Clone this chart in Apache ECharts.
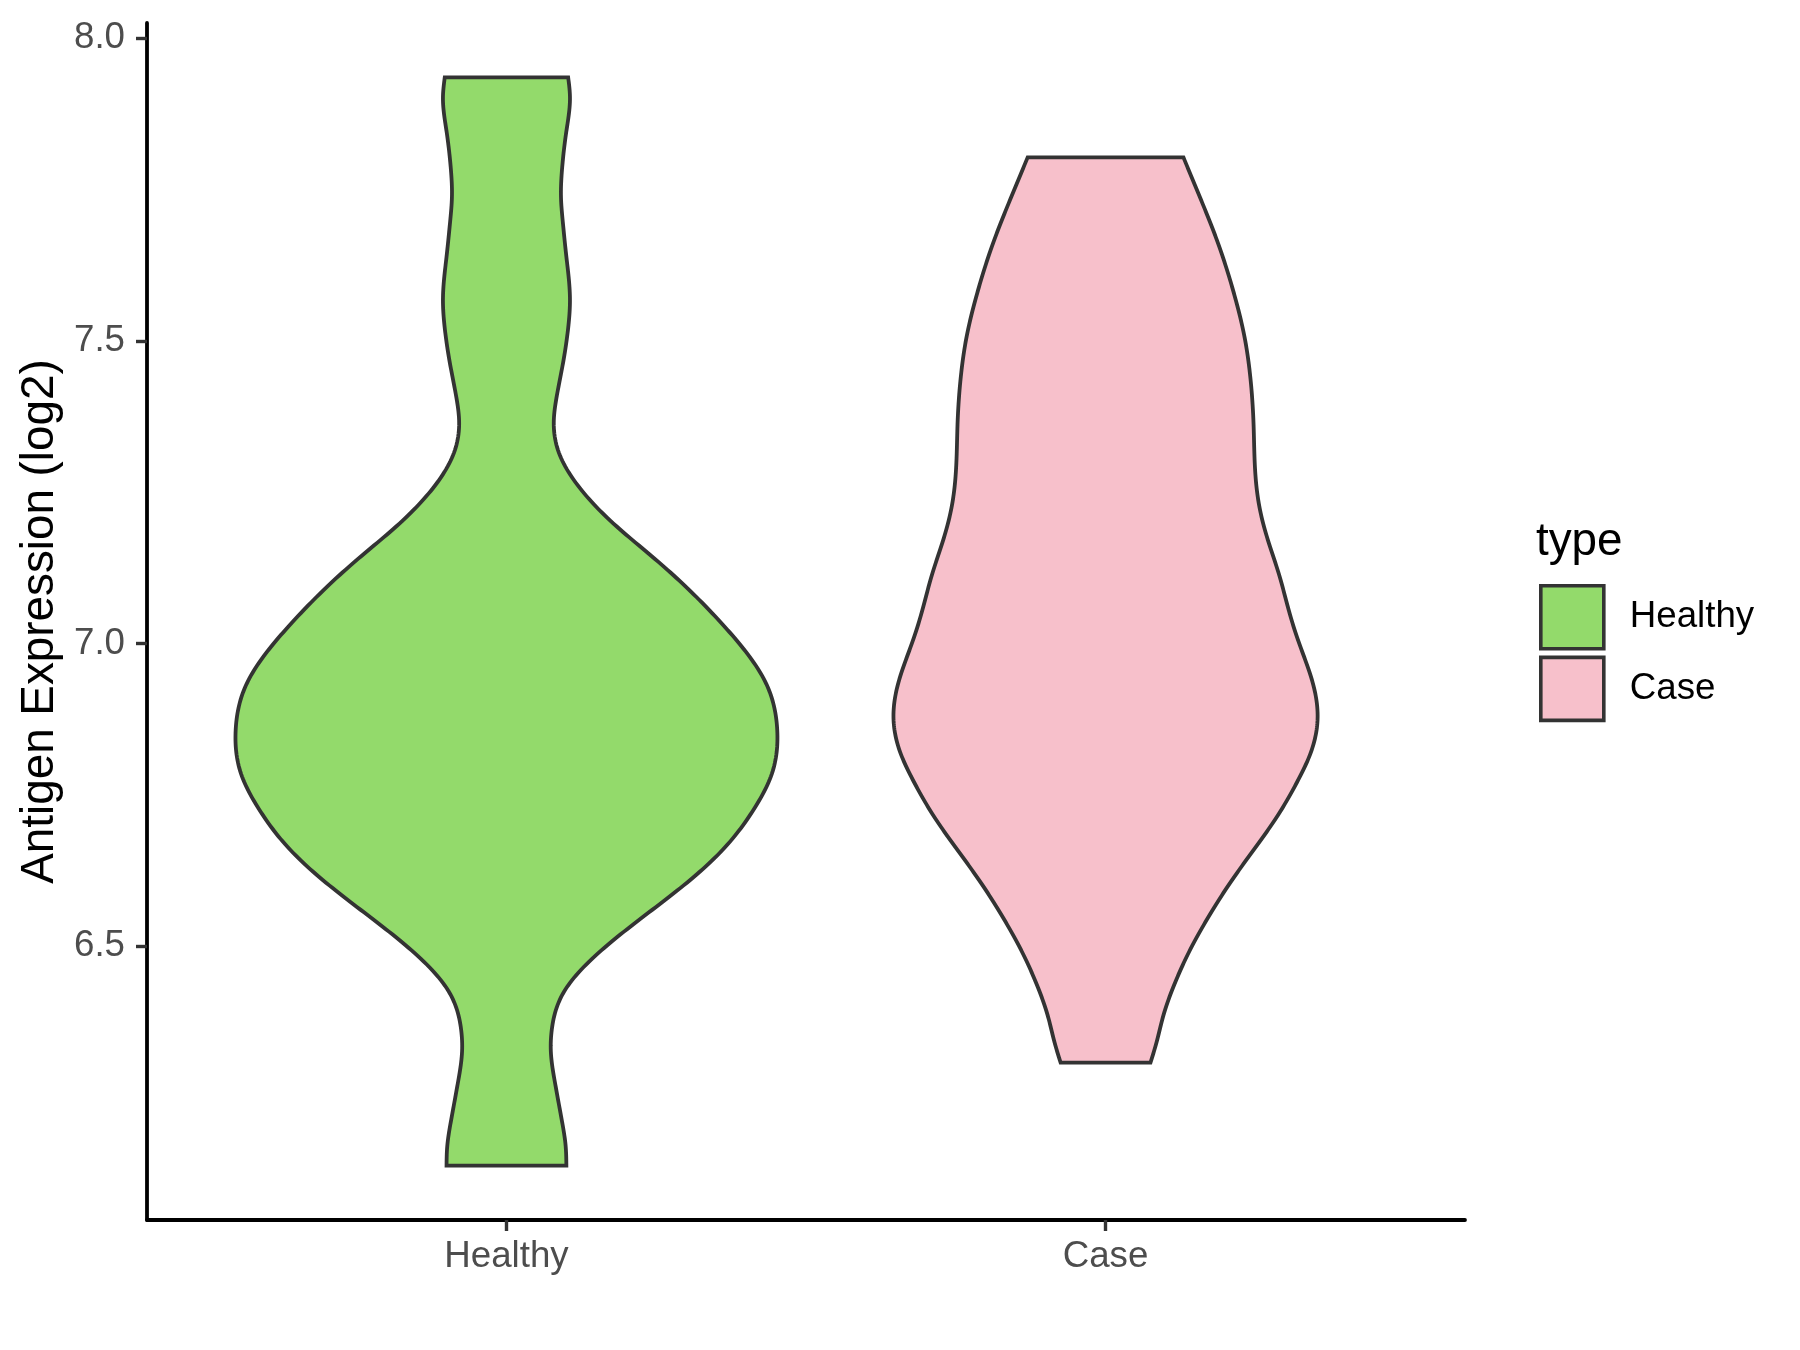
<!DOCTYPE html>
<html>
<head>
<meta charset="utf-8">
<script src="https://cdn.jsdelivr.net/npm/echarts@6/dist/echarts.min.js"></script>
<style>
  html, body { margin: 0; padding: 0; background: #ffffff; }
  #chart { width: 1800px; height: 1350px; }
</style>
</head>
<body>
<div id="chart"></div>
<script>
// ---- data ----
const categories = ['Healthy', 'Case'];
const yTicks = [6.5, 7.0, 7.5, 8.0];

// Healthy violin outline: expression value and half-width (in category units)
const healthyY = [7.935, 7.903, 7.846, 7.786, 7.738, 7.697, 7.639, 7.568, 7.521, 7.461, 7.403, 7.367, 7.314, 7.255, 7.197, 7.138, 7.078, 7.039, 6.996, 6.935, 6.857, 6.785, 6.725, 6.666, 6.605, 6.545, 6.486, 6.425, 6.365, 6.329, 6.275, 6.215, 6.168, 6.138];
const healthyHalfWidth = [0.103, 0.106, 0.100, 0.093, 0.091, 0.094, 0.100, 0.106, 0.103, 0.094, 0.083, 0.079, 0.088, 0.124, 0.180, 0.250, 0.316, 0.354, 0.392, 0.433, 0.452, 0.443, 0.412, 0.367, 0.301, 0.223, 0.150, 0.096, 0.076, 0.074, 0.081, 0.092, 0.099, 0.100];

// Case violin outline
const caseY = [7.803, 7.748, 7.666, 7.583, 7.501, 7.446, 7.364, 7.281, 7.225, 7.171, 7.116, 7.044, 7.001, 6.945, 6.879, 6.824, 6.770, 6.714, 6.659, 6.605, 6.549, 6.494, 6.440, 6.384, 6.341, 6.308];
const caseHalfWidth = [0.130, 0.153, 0.186, 0.213, 0.233, 0.241, 0.247, 0.250, 0.257, 0.271, 0.289, 0.309, 0.323, 0.343, 0.354, 0.344, 0.319, 0.286, 0.247, 0.208, 0.172, 0.141, 0.116, 0.096, 0.085, 0.075];

// ---- styling ----
const FONT = '"Liberation Sans", Arial, Helvetica, sans-serif';
const COLORS = { Healthy: '#93DA6B', Case: '#F7C0CB' };
const OUTLINE = '#333333';

// y range with ggplot-style 5% expansion of the full data range
const allY = healthyY.concat(caseY);
const dMin = Math.min.apply(null, allY), dMax = Math.max.apply(null, allY);
const pad = (dMax - dMin) * 0.05;
const yMin = dMin - pad, yMax = dMax + pad;

// natural cubic spline of half-width as a function of value (used only to draw a smooth outline)
function splineSampler(xs, ys) {
  const n = xs.length;
  const h = [], al = [], l = [1], mu = [0], z = [0], c = new Array(n).fill(0), b = [], d = [];
  for (let i = 0; i < n - 1; i++) h.push(xs[i + 1] - xs[i]);
  for (let i = 1; i < n - 1; i++) al[i] = 3 / h[i] * (ys[i + 1] - ys[i]) - 3 / h[i - 1] * (ys[i] - ys[i - 1]);
  for (let i = 1; i < n - 1; i++) {
    l[i] = 2 * (xs[i + 1] - xs[i - 1]) - h[i - 1] * mu[i - 1];
    mu[i] = h[i] / l[i];
    z[i] = (al[i] - h[i - 1] * z[i - 1]) / l[i];
  }
  for (let j = n - 2; j >= 0; j--) {
    c[j] = z[j] - mu[j] * c[j + 1];
    b[j] = (ys[j + 1] - ys[j]) / h[j] - h[j] * (c[j + 1] + 2 * c[j]) / 3;
    d[j] = (c[j + 1] - c[j]) / (3 * h[j]);
  }
  return function (x) {
    let i = 0;
    while (i < n - 2 && x > xs[i + 1]) i++;
    const dx = x - xs[i];
    return ys[i] + b[i] * dx + c[i] * dx * dx + d[i] * dx * dx * dx;
  };
}

function makeRender(pos, ys, hws, color) {
  const asc = ys.map((v, i) => [v, hws[i]]).sort((a, b) => a[0] - b[0]);
  const f = splineSampler(asc.map(p => p[0]), asc.map(p => p[1]));
  const lo = asc[0][0], hi = asc[asc.length - 1][0];
  return function (params, api) {
    const steps = 400;
    const right = [], left = [];
    for (let k = 0; k <= steps; k++) {
      const v = hi - (hi - lo) * k / steps;
      const w = f(v);
      right.push(api.coord([pos + w, v]));
      left.push(api.coord([pos - w, v]));
    }
    const pts = right.concat(left.reverse());
    return {
      type: 'polygon',
      shape: { points: pts },
      style: { fill: color, stroke: OUTLINE, lineWidth: 3.8, lineJoin: 'miter' }
    };
  };
}

const violins = [
  { name: 'Healthy', pos: 1, ys: healthyY, hws: healthyHalfWidth },
  { name: 'Case', pos: 2, ys: caseY, hws: caseHalfWidth }
];

const chart = echarts.init(document.getElementById('chart'), null, { renderer: 'canvas' });
chart.setOption({
  backgroundColor: '#ffffff',
  animation: false,
  textStyle: { fontFamily: FONT },
  title: {
    text: 'type',
    left: 1531,
    top: 514,
    textStyle: { fontFamily: FONT, fontSize: 45.8, fontWeight: 'normal', color: '#000000' }
  },
  legend: {
    data: categories,
    orient: 'vertical',
    left: 1534,
    top: 579,
    icon: 'rect',
    itemWidth: 63,
    itemHeight: 63,
    itemGap: 5,
    itemStyle: { borderColor: OUTLINE, borderWidth: 3.6 },
    textStyle: { fontFamily: FONT, fontSize: 36.7, color: '#000000', padding: [9, 0, 0, 21] }
  },
  grid: { left: 147, right: 335, top: 23, bottom: 130, containLabel: false },
  xAxis: {
    type: 'value',
    min: 0.4,
    max: 2.6,
    splitLine: { show: false },
    axisLine: { show: true, onZero: false, lineStyle: { color: '#000000', width: 3.8 } },
    axisTick: { show: true, customValues: [1, 2], length: 11, lineStyle: { color: OUTLINE, width: 3.4 } },
    axisLabel: {
      show: true,
      customValues: [1, 2],
      formatter: v => categories[Math.round(v) - 1] || '',
      margin: 18,
      fontFamily: FONT, fontSize: 36.7, color: '#4D4D4D', lineHeight: 37
    }
  },
  yAxis: {
    type: 'value',
    min: yMin,
    max: yMax,
    name: 'Antigen Expression (log2)',
    nameLocation: 'middle',
    nameGap: 82,
    nameTextStyle: { fontFamily: FONT, fontSize: 45.8, color: '#000000' },
    splitLine: { show: false },
    axisLine: { show: true, onZero: false, lineStyle: { color: '#000000', width: 3.8 } },
    axisTick: { show: true, customValues: yTicks, length: 11, lineStyle: { color: OUTLINE, width: 3.4 } },
    axisLabel: {
      show: true,
      customValues: yTicks,
      formatter: v => v.toFixed(1),
      margin: 22,
      fontFamily: FONT, fontSize: 36.7, color: '#4D4D4D'
    }
  },
  series: violins.map(vl => ({
    name: vl.name,
    type: 'custom',
    clip: false,
    itemStyle: { color: COLORS[vl.name], borderColor: OUTLINE, borderWidth: 3.6 },
    renderItem: makeRender(vl.pos, vl.ys, vl.hws, COLORS[vl.name]),
    encode: { x: 0, y: 1 },
    data: [[vl.pos, vl.ys[0]]]
  }))
});
</script>
</body>
</html>
